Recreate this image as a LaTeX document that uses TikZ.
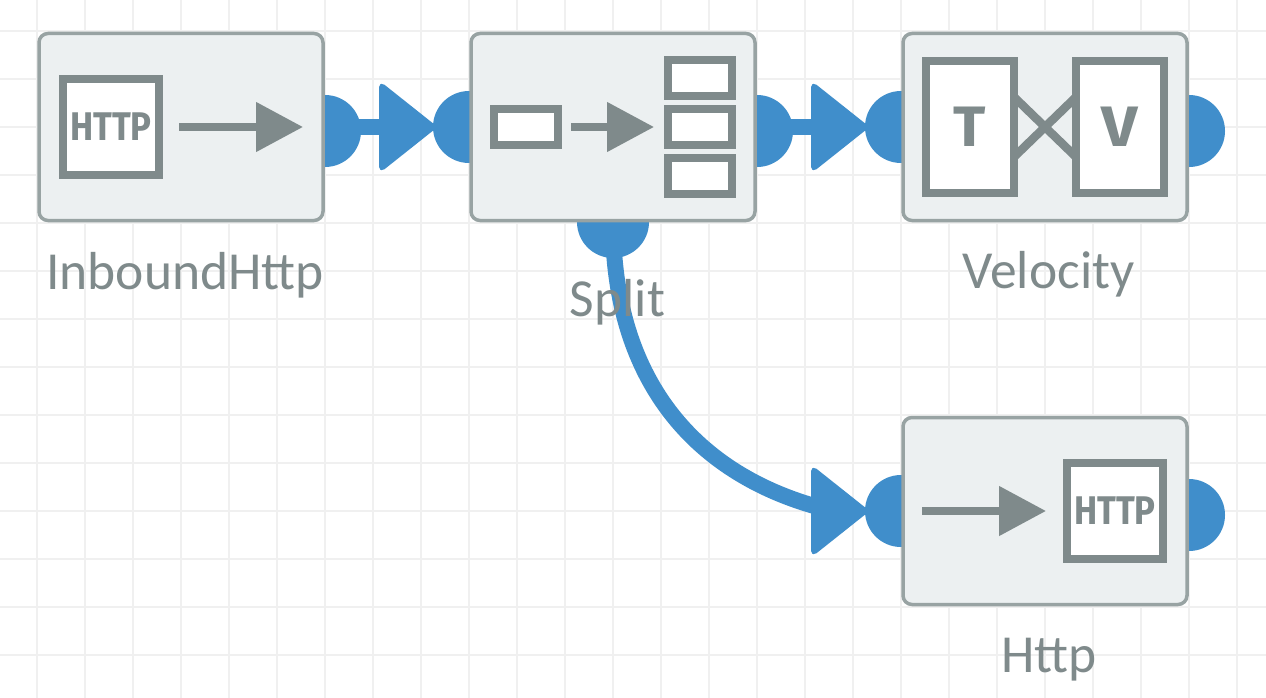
\documentclass[tikz,border=0pt]{standalone}
\usepackage{fontspec}
\setmainfont{Carlito}
\newfontfamily\iconfont{Fira Sans}
\usetikzlibrary{shapes,shapes.geometric,arrows.meta,positioning}
\definecolor{wireblue}{HTML}{408ECB}
\definecolor{boxfill}{HTML}{ECF0F1}
\definecolor{boxline}{HTML}{98A3A3}
\definecolor{icongray}{HTML}{7F8A8B}
\definecolor{gridgray}{HTML}{F0F0F0}
\tikzset{
  wire/.style={draw=wireblue,line width=16pt},
  port/.style={circle,fill=wireblue,minimum size=72pt,inner sep=0pt,outer sep=0pt},
  tip/.style={isosceles triangle,isosceles triangle apex angle=78,isosceles triangle stretches,
    fill=wireblue,draw=wireblue,line width=2pt,rounded corners=5pt,line join=round,
    minimum width=89pt,minimum height=56pt,inner sep=0pt,outer sep=0pt,anchor=apex},
  proc/.style={rectangle,draw=boxline,fill=boxfill,line width=3.5pt,rounded corners=9pt,
    minimum width=284pt,minimum height=187pt,inner sep=0pt,outer sep=0pt},
  iconbox/.style={rectangle,draw=icongray,fill=white,line width=8pt,inner sep=0pt,outer sep=0pt},
  slot/.style={iconbox,minimum width=64pt,minimum height=36pt},
  httpbox/.style={iconbox,minimum width=96pt,minimum height=96pt,text=icongray,
    font=\iconfont\bfseries\fontsize{40}{40}\selectfont},
  letterbox/.style={iconbox,minimum width=88pt,minimum height=132pt,text=icongray,
    font=\iconfont\bfseries\fontsize{57}{57}\selectfont},
  iconarrow/.style={draw=icongray,line width=8pt,-{Triangle[length=47pt,width=48pt]}},
  cross/.style={draw=icongray,line width=8.5pt},
  caption/.style={text=icongray,anchor=base,inner sep=0pt,font=\fontsize{53.5}{53.5}\selectfont}
}
\begin{document}
\begin{tikzpicture}[x=1pt,y=-1pt]
  \useasboundingbox (0,0) rectangle (1266,698);
  \fill[white] (0,0) rectangle (1266,698);
  % grid
  \foreach \gx in {37,85,...,1237} \draw[gridgray,line width=2pt] (\gx,0) -- (\gx,698);
  \foreach \gy in {31,79,...,655} \draw[gridgray,line width=2pt] (0,\gy) -- (1266,\gy);
  % ports
  \node (outInbound) [port] at (325,131) {};
  \node (inSplit) [port] at (469,127) {};
  \node (outSplit) [port] at (757,131) {};
  \node (outSplitB) [port] at (613,222) {};
  \node (inVelocity) [port] at (901,127) {};
  \node (outVelocity) [port] at (1189,131) {};
  \node (inHttp) [port] at (901,511) {};
  \node (outHttp) [port] at (1189,515) {};
  \node (tipSplit) [tip] at (436,127) {};
  \node (tipVelocity) [tip] at (868,127) {};
  \node (tipHttp) [tip] at (868,511) {};
  % connectors
  \draw[wire] (outInbound.center |- tipSplit.center) -- (tipSplit.center);
  \draw[wire] (outSplit.center |- tipVelocity.center) -- (tipVelocity.center);
  \draw[wire] (outSplitB.center) .. controls (613,385) and (700,480) .. (tipHttp.center);
  % boxes
  \node (inbound) [proc] at (181,127) {};
  \node (split) [proc] at (613,127) {};
  \node (velocity) [proc] at (1045,127) {};
  \node (http) [proc] at (1045,511) {};
  % inbound icon
  \node (httpIn) [httpbox] at (111,127) {\scalebox{0.87}[1]{HTTP}};
  \coordinate (arrInA) at (179,127);
  \coordinate (arrInB) at (303,127);
  \draw[iconarrow] (arrInA) -- (arrInB);
  % split icon
  \node (slotIn) [slot] at (526,127) {};
  \node (slotA) [slot] at (700,78) {};
  \node (slotB) [slot] at (700,127) {};
  \node (slotC) [slot] at (700,176) {};
  \coordinate (arrSpA) at (571,127);
  \coordinate (arrSpB) at (654,127);
  \draw[iconarrow] (arrSpA) -- (arrSpB);
  % velocity icon
  \coordinate (crossTA) at (1014,97);
  \coordinate (crossTB) at (1014,157);
  \coordinate (crossVA) at (1076,97);
  \coordinate (crossVB) at (1076,157);
  \draw[cross] (crossTA) -- (crossVB);
  \draw[cross] (crossTB) -- (crossVA);
  \node (boxT) [letterbox] at (970,127) {\scalebox{1.05}[1]{T}};
  \node (boxV) [letterbox] at (1120,127) {\scalebox{1.12}[1]{V}};
  % http icon
  \coordinate (arrOutA) at (922,511);
  \coordinate (arrOutB) at (1046,511);
  \draw[iconarrow] (arrOutA) -- (arrOutB);
  \node (httpOut) [httpbox] at (1115,511) {\scalebox{0.87}[1]{HTTP}};
  % labels
  \node (lblInbound) [caption] at (185,289) {InboundHttp};
  \node (lblSplit) [caption] at (617.5,316) {Split};
  \node (lblVelocity) [caption] at (1048.5,288) {Velocity};
  \node (lblHttp) [caption] at (1049,672) {Http};
\end{tikzpicture}
\end{document}
